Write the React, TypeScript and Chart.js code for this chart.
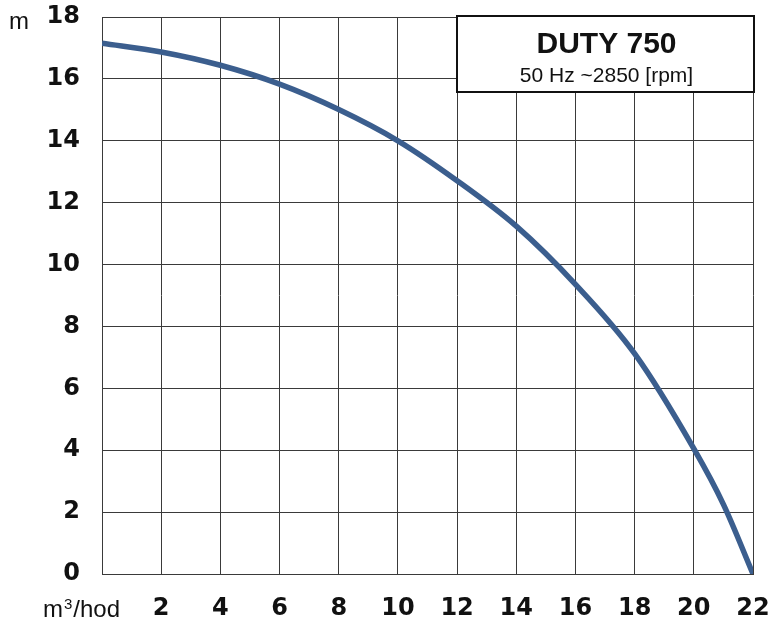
import React, { useEffect, useRef } from "react";
import { Chart, registerables } from "chart.js";

Chart.register(...registerables);

const flow = [0, 2, 4, 6, 8, 10, 12, 14, 16, 18, 20, 21, 22];
const head = [17.15, 16.87, 16.44, 15.83, 15.01, 14.0, 12.71, 11.24, 9.36, 7.12, 4.05, 2.25, 0];
const xTicks = [2, 4, 6, 8, 10, 12, 14, 16, 18, 20, 22];
const yTicks = [0, 2, 4, 6, 8, 10, 12, 14, 16, 18];
const title = "DUTY 750";
const subtitle = "50 Hz ~2850 [rpm]";
const yUnit = "m";
const xUnitBase = "m";
const xUnitSup = "3";
const xUnitRest = "/hod";

const FONT = "'Liberation Sans', Arial, sans-serif";
const TICKFONT = "'DejaVu Sans', 'Liberation Sans', sans-serif";

const overlay = {
  id: "overlay",
  afterDraw(chart: any) {
    const ctx = chart.ctx;
    ctx.save();
    // title box
    const bx = 457, by = 16, bw = 297, bh = 76;
    ctx.fillStyle = "#ffffff";
    ctx.fillRect(bx, by, bw, bh);
    ctx.lineWidth = 2;
    ctx.strokeStyle = "#111111";
    ctx.strokeRect(bx, by, bw, bh);
    ctx.fillStyle = "#111111";
    ctx.textAlign = "center";
    ctx.textBaseline = "alphabetic";
    ctx.font = `bold 30px ${FONT}`;
    ctx.fillText(title, bx + bw / 2 + 1, 53);
    ctx.font = `21px ${FONT}`;
    ctx.fillText(subtitle, bx + bw / 2 + 1, 82);
    // units
    ctx.textAlign = "left";
    ctx.font = `24px ${FONT}`;
    ctx.fillText(yUnit, 9, 29);
    const ux = 43, uy = 617;
    ctx.fillText(xUnitBase, ux, uy);
    const w1 = ctx.measureText(xUnitBase).width;
    ctx.font = `15px ${FONT}`;
    ctx.fillText(xUnitSup, ux + w1 + 1, uy - 8);
    const w2 = ctx.measureText(xUnitSup).width;
    ctx.font = `24px ${FONT}`;
    ctx.fillText(xUnitRest, ux + w1 + w2 + 2, uy);
    ctx.restore();
  },
};

export default function App() {
  const ref = useRef<HTMLCanvasElement>(null);
  useEffect(() => {
    const chart = new Chart(ref.current!, {
      type: "line",
      data: {
        datasets: [
          {
            data: flow.map((x, i) => ({ x, y: head[i] })),
            borderColor: "#3b5e8e",
            borderWidth: 5.5,
            pointRadius: 0,
            cubicInterpolationMode: "monotone",
            fill: false,
          },
        ],
      },
      options: {
        responsive: false,
        animation: false,
        layout: { padding: { top: 17, right: 22, left: 0, bottom: 0 } },
        plugins: { legend: { display: false }, tooltip: { enabled: false } },
        scales: {
          x: {
            type: "linear",
            min: 0,
            max: 22,
            afterBuildTicks: (s: any) => {
              s.ticks = [0, ...xTicks].map((v) => ({ value: v }));
            },
            afterFit: (s: any) => {
              s.height = 46;
              s.paddingLeft = 0;
              s.paddingRight = 0;
            },
            grid: { color: "#3a3a3a", lineWidth: 1, drawTicks: false },
            border: { color: "#3a3a3a" },
            ticks: {
              padding: 20,
              color: "#111111",
              font: { family: TICKFONT, size: 24, weight: "bold" },
              maxRotation: 0,
              autoSkip: false,
              callback: (v: any) => (v === 0 ? "" : String(v)),
            },
          },
          y: {
            min: 0,
            max: 18,
            afterBuildTicks: (s: any) => {
              s.ticks = yTicks.map((v) => ({ value: v }));
            },
            afterFit: (s: any) => {
              s.width = 102;
              s.paddingTop = 0;
              s.paddingBottom = 0;
            },
            grid: { color: "#3a3a3a", lineWidth: 1, drawTicks: false },
            border: { color: "#3a3a3a" },
            ticks: {
              padding: 22,
              color: "#111111",
              font: { family: TICKFONT, size: 24, weight: "bold" },
              autoSkip: false,
            },
          },
        },
      },
      plugins: [overlay],
    } as any);
    return () => chart.destroy();
  }, []);
  return (
    <div style={{ position: "absolute", left: 0, top: 0, width: 775, height: 620, background: "#fff" }}>
      <canvas ref={ref} width={775} height={620} style={{ display: "block" }} />
    </div>
  );
}
